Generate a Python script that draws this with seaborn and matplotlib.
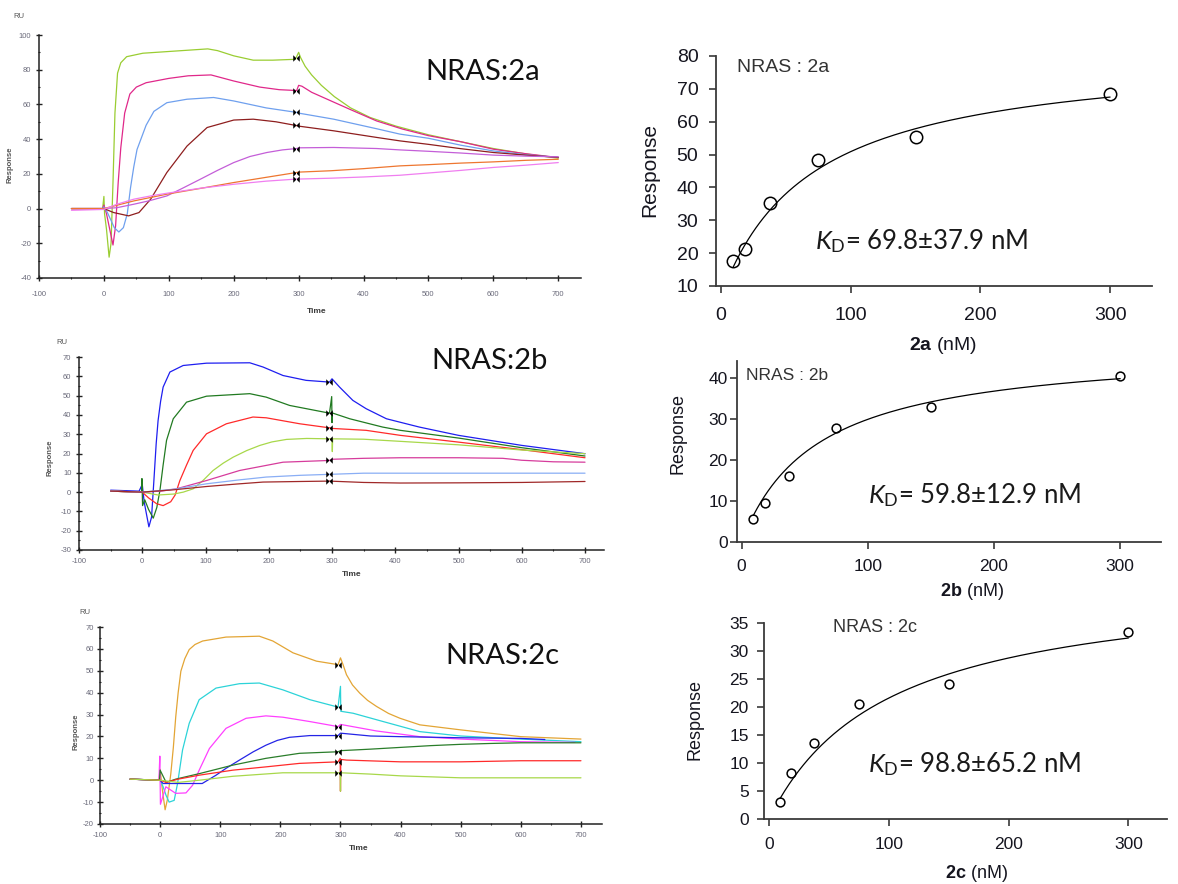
import numpy as np
import pandas as pd
import matplotlib
matplotlib.use("Agg")
import matplotlib.pyplot as plt
from matplotlib.ticker import MultipleLocator
import seaborn as sns

sns.set_style("ticks")
plt.rcParams["font.family"] = ["Liberation Sans", "DejaVu Sans"]
plt.rcParams["axes.unicode_minus"] = False
plt.rcParams["mathtext.fontset"] = "custom"
plt.rcParams["mathtext.rm"] = "Lato"
plt.rcParams["mathtext.it"] = "Lato:italic"
plt.rcParams["mathtext.bf"] = "Liberation Sans:bold"

# ---------------------------------------------------------------- data
# analyte concentrations (nM) used for the sensorgrams, highest first
conc_sens = [300, 150, 75, 37.5, 18.75, 9.375, 4.6875]

# NRAS:2a sensorgrams (time in s, response in RU)
t_2a_300 = [-50, -2, 0, 1, 4, 8, 11, 14, 17, 21, 26, 35, 60, 100, 160, 175, 200, 230, 260, 295,
            300, 303, 310, 320, 335, 355, 380, 410, 450, 500, 550, 600, 650, 700]
r_2a_300 = [0, 0, 7, -3, -12, -28, -20, 15, 55, 78, 84, 87.5, 89.5, 90.5, 92, 91, 88, 85.5, 85.5, 86,
            90, 87, 82, 77, 71, 64.5, 58, 52.5, 47.5, 42.5, 38.5, 34.6, 31.5, 29]
t_2a_150 = [-50, -2, 0, 4, 9, 14, 18, 22, 26, 32, 40, 50, 65, 100, 130, 165, 200, 240, 270, 297,
            300, 305, 320, 350, 380, 420, 460, 500, 550, 600, 650, 700]
r_2a_150 = [0, 0, 2, -3, -12, -21, -10, 15, 35, 55, 66, 70, 72.5, 75, 76.5, 77, 73.5, 70, 68.5, 68,
            71, 70.5, 67, 62, 57, 50.5, 45.8, 42, 38.5, 34.2, 31.6, 29.4]
t_2a_75 = [-50, -2, 0, 5, 10, 16, 23, 30, 36, 41, 46, 51, 58, 65, 77, 97, 128, 169, 200, 250,
           297, 300, 354, 420, 456, 500, 550, 600, 650, 700]
r_2a_75 = [0, 0, 1, -2, -6, -11, -13.5, -11, -3, 12, 24, 34, 41, 48, 56, 61, 63, 64, 62, 58,
           55.4, 55, 51.5, 46, 42.9, 40.5, 36.5, 33.2, 31, 29.5]
t_2a_37 = [-50, 0, 15, 38, 54, 72, 97, 128, 159, 200, 230, 265, 297, 300, 354, 420, 456, 500,
           550, 600, 650, 700]
r_2a_37 = [0, 0, -2.3, -4.2, -2.3, 5.4, 20.8, 36, 46.7, 51, 51.5, 50, 47.8, 47.5, 44.8, 41, 39, 37,
           34.5, 32.3, 30.8, 29.5]
t_2a_18 = [-50, 0, 20, 46, 70, 97, 120, 149, 175, 200, 225, 251, 275, 297, 300, 354, 420, 456,
           500, 550, 600, 650, 700]
r_2a_18 = [0, 0, 0.5, 2.5, 4.5, 7.3, 11.5, 17, 22, 26.5, 30, 32.3, 33.8, 34.6, 35, 35.2, 34.6, 33.8,
           33, 32, 30.8, 30.2, 29.8]
t_2a_9 = [-50, 0, 46, 97, 150, 200, 250, 297, 300, 350, 400, 456, 500, 550, 600, 650, 700]
r_2a_9 = [0, 0, 4.4, 8.3, 11.7, 15, 18, 20.8, 21, 21.8, 23, 24.6, 25.3, 26.2, 26.9, 27.8, 28.4]
t_2a_4 = [-50, 0, 20, 46, 75, 100, 150, 200, 250, 297, 300, 350, 400, 456, 500, 550, 600, 650, 700]
r_2a_4 = [-1, -0.5, 2.5, 5.4, 7.5, 9, 11.8, 14, 15.8, 17, 17, 17.5, 18.2, 19.2, 20.5, 22, 23.7, 25, 26.5]

# NRAS:2b sensorgrams
t_2b_300 = [-50, -5, 0, 3, 7, 10.5, 14.7, 18.4, 22, 25, 29, 33, 43.7, 64.7, 101.6, 170, 191, 222.6,
            259, 296, 300, 312, 333, 354, 386, 438, 500, 600, 700]
r_2b_300 = [1, 0.5, 4, -5, -12, -18, -13, 6, 25, 37, 47, 54.4, 62.2, 65.6, 66.8, 67, 64.8, 60.4,
            57.9, 57, 58.7, 54.4, 47.5, 43.2, 38, 33.7, 29.4, 24.2, 19.9]
t_2b_150 = [-50, -1, -0.5, 0.5, 4, 10, 17.4, 23, 28, 33, 38.4, 49, 70, 101.6, 170, 196, 233, 296,
            299.5, 300, 300.5, 328, 380, 408, 500, 600, 700]
r_2b_150 = [0.5, 0, 7, -7, -4, -9, -13.5, -8, 1, 14, 26.8, 38, 46.6, 49.7, 51, 49.2, 44.9, 40.9,
            49.5, 36, 41, 38, 33.7, 32, 28, 23, 18.7]
t_2b_75 = [-50, 0, 10, 22.6, 33, 45, 52, 59.5, 70, 80.5, 101.6, 133, 175, 196, 249, 296, 300, 354,
           408, 500, 600, 700]
r_2b_75 = [0.5, 0, -3, -6, -7, -5, -1.5, 6, 14, 21.6, 30.2, 35.4, 38.9, 38.5, 35.4, 33.3, 33, 32,
           29.4, 25.9, 22, 17.8]
t_2b_37 = [-50, 0, 25, 50, 65, 80.5, 96, 112, 128, 143.7, 165, 186, 205, 228, 260, 296, 300, 300.5,
           301, 350, 408, 500, 600, 700]
r_2b_37 = [0.5, 0, -1.5, -1, 0, 1.7, 6, 11.2, 15, 18.1, 21.5, 24.2, 26, 27.3, 27.8, 27.6, 27.6, 21,
           27.6, 27.4, 26.3, 24.5, 21.8, 19.9]
t_2b_18 = [-50, 0, 30, 54, 101.6, 154, 222.6, 296, 300, 350, 408, 500, 570, 600, 650, 700]
r_2b_18 = [0.5, 0, 0.5, 1.7, 6, 11.2, 15.5, 16.4, 17, 17.5, 17.8, 17.8, 17.5, 16.5, 15.7, 15.5]
t_2b_9 = [-50, 0, 50, 101.6, 150, 196, 250, 296, 350, 408, 500, 600, 700]
r_2b_9 = [0.5, 0, 1.5, 4.3, 6.2, 7.8, 8.7, 9.2, 9.8, 9.8, 9.8, 9.8, 9.8]
t_2b_4 = [-50, 0, 50, 101.6, 150, 191, 250, 296, 350, 408, 500, 600, 700]
r_2b_4 = [0.5, 0, 1.2, 2.9, 4.2, 5.2, 5.5, 5.7, 5, 4.7, 4.8, 5, 5.5]

# NRAS:2c sensorgrams
t_2c_300 = [-50, -2, 0, 4, 8.3, 12, 17.8, 22, 26, 30, 34.5, 41, 48.4, 58, 70.7, 109.6, 165, 187.5,
            221, 260, 296, 300, 304, 310, 320, 332, 345, 360, 380, 399, 432, 500, 600, 700]
r_2c_300 = [0.5, 0, 5, -5, -13.5, -9, 3, 15, 29, 40, 49.8, 55.5, 59.7, 62, 63.6, 65.4, 65.8, 63.6,
            58.2, 54.4, 52.8, 55.9, 53, 48.2, 43.5, 39.8, 36.5, 33.7, 30.5, 28.3, 25.3, 23, 19.9, 18.8]
t_2c_150 = [-50, 0, 5, 10, 15, 23.4, 29, 37.3, 48.4, 65, 93, 132, 165, 204, 249, 296, 300, 300.5,
            321, 371, 432, 500, 600, 700]
r_2c_150 = [0.5, 0, -3, -7, -10, -9.2, -1.5, 13.8, 26, 36.8, 42.1, 44.1, 44.4, 41.3, 36.8, 33.4,
            42.9, 31.5, 30.6, 26.8, 22.2, 20.2, 18.8, 17.6]
t_2c_75 = [-50, -2, -0.5, 0.5, 9.5, 26, 43, 54, 65, 82, 109.6, 143, 176, 204, 249, 296, 300, 360,
           432, 500, 600, 690]
r_2c_75 = [0.5, 0, 11, -11, -3, -6, -5.8, -2.3, 4.6, 14.5, 23.7, 28.3, 29.4, 28.8, 26.8, 24.5, 25.5,
           22.5, 19.9, 18.8, 17.6, 17.3]
t_2c_37 = [-50, 0, 5, 30, 70, 93, 110, 132, 155, 176, 195, 215, 249, 296, 300, 350, 400, 500, 600, 640]
r_2c_37 = [0.5, 0, -1.5, -1.5, -1.5, 2.3, 5.5, 9.2, 13, 16, 18.2, 19.6, 20.4, 20.4, 21.5, 20.2, 19.9,
           19.4, 19.1, 18.6]
t_2c_18 = [-50, -1, 0, 10, 26, 65, 121, 176, 232, 296, 300, 350, 400, 450, 500, 550, 600, 700]
r_2c_18 = [0.5, 0, 4.6, -1, 0.5, 3, 6.9, 10, 12.3, 13, 13.5, 14.2, 15, 15.8, 16.4, 16.8, 17.1, 17.1]
t_2c_9 = [-50, 0, 10, 30, 65, 121, 176, 232, 296, 299.5, 300, 300.5, 310, 400, 500, 600, 700]
r_2c_9 = [0.5, 0, -1, 0.5, 2.3, 4.6, 6.1, 7.7, 8.4, 10, -5, 9.5, 9.2, 8.4, 8.4, 8.9, 8.9]
t_2c_4 = [-50, 0, 30, 65, 121, 204, 296, 299.5, 300, 300.5, 350, 400, 500, 600, 700]
r_2c_4 = [0.5, 0, -1, 0, 1.8, 3.4, 3.4, 3.4, -5, 3.4, 2.8, 2, 1.1, 1.1, 1.1]

# steady-state affinity data (nM, RU)
conc_ss = [9.375, 18.75, 37.5, 75, 150, 300]
resp_2a = [17.7, 21.2, 35.4, 48.3, 55.4, 68.3]
resp_2b = [5.5, 9.4, 16.1, 27.7, 32.8, 40.4]
resp_2c = [3.0, 8.3, 13.5, 20.5, 24.1, 33.3]

# 1:1 steady-state fit parameters: KD (nM), error, Rmax (RU), offset (RU)
kd_2a, kd_err_2a, rmax_2a, off_2a = 69.8, 37.9, 74.7, 6.9
kd_2b, kd_err_2b, rmax_2b, off_2b = 59.8, 12.9, 47.7, 0.0
kd_2c, kd_err_2c, rmax_2c, off_2c = 98.8, 65.2, 42.9, 0.0

report_time = 296

colors_2a = ["#9ACD32", "#E0288A", "#6FA0EE", "#8E1E1E", "#C45ED8", "#EE7630", "#F07EF0"]
colors_2b = ["#1E1EF0", "#217A21", "#FF2A2A", "#A8D84A", "#D63C9C", "#8AAEF5", "#A02828"]
colors_2c = ["#E3A535", "#2CD3D8", "#FF40FF", "#2424E6", "#2A7D2A", "#FF2A2A", "#A8D84A"]

curves_2a = [(t_2a_300, r_2a_300), (t_2a_150, r_2a_150), (t_2a_75, r_2a_75), (t_2a_37, r_2a_37),
             (t_2a_18, r_2a_18), (t_2a_9, r_2a_9), (t_2a_4, r_2a_4)]
curves_2b = [(t_2b_300, r_2b_300), (t_2b_150, r_2b_150), (t_2b_75, r_2b_75), (t_2b_37, r_2b_37),
             (t_2b_18, r_2b_18), (t_2b_9, r_2b_9), (t_2b_4, r_2b_4)]
curves_2c = [(t_2c_300, r_2c_300), (t_2c_150, r_2c_150), (t_2c_75, r_2c_75), (t_2c_37, r_2c_37),
             (t_2c_18, r_2c_18), (t_2c_9, r_2c_9), (t_2c_4, r_2c_4)]

# ---------------------------------------------------------------- figure
W, H = 1178, 884
fig = plt.figure(figsize=(W / 100, H / 100), dpi=100, facecolor="white")


def px_axes(left, top, right, bottom):
    return fig.add_axes([left / W, 1 - bottom / H, (right - left) / W, (bottom - top) / H])


def ftext(x, y, s, **kw):
    kw.setdefault("ha", "center")
    kw.setdefault("va", "center")
    return fig.text(x / W, 1 - y / H, s, **kw)


def sensorgram(ax, curves, colors, xlim, ylim, ystep, xpad, ypad):
    frames = []
    labels = [f"{c:g} nM" for c in conc_sens]
    for (t, r), lab in zip(curves, labels):
        frames.append(pd.DataFrame({"time": t, "response": r, "conc": lab}))
    df = pd.concat(frames, ignore_index=True)
    sns.lineplot(data=df, x="time", y="response", hue="conc", hue_order=labels,
                 palette=colors, estimator=None, sort=False, legend=False,
                 linewidth=0.9, ax=ax)
    # report points at the end of injection
    bow = [(-1, 1), (1, -1), (1, 1), (-1, -1)]
    rx = [report_time] * len(curves)
    ry = [float(np.interp(report_time, t, r)) for t, r in curves]
    ax.scatter(rx, ry, marker=bow, s=22, color="black", linewidths=0, zorder=5)
    ax.set_xlim(*xlim)
    ax.set_ylim(*ylim)
    ax.xaxis.set_major_locator(MultipleLocator(100))
    ax.xaxis.set_minor_locator(MultipleLocator(50))
    ax.yaxis.set_major_locator(MultipleLocator(ystep))
    ax.yaxis.set_minor_locator(MultipleLocator(ystep / 2))
    ax.set_xlabel("")
    ax.set_ylabel("")
    for s in ("top", "right"):
        ax.spines[s].set_visible(False)
    for s in ("left", "bottom"):
        ax.spines[s].set_color("#222222")
        ax.spines[s].set_linewidth(1.1)
    ax.tick_params(which="major", direction="inout", length=5, width=1, color="#222222",
                   labelsize=5.5, labelcolor="#6a6a7a")
    ax.tick_params(which="minor", direction="inout", length=2, width=0.8, color="#222222")
    ax.tick_params(axis="x", pad=xpad)
    ax.tick_params(axis="y", pad=ypad)


def affinity(ax, resp, kd, rmax, off, ylim, yticks, size, msize, xpad, ypad):
    cfit = np.linspace(conc_ss[0], conc_ss[-1], 300)
    fit = off + rmax * cfit / (kd + cfit)
    sns.scatterplot(x=conc_ss, y=resp, ax=ax, s=msize, color="white", edgecolor="black",
                    linewidth=1.1, zorder=2, legend=False)
    sns.lineplot(x=cfit, y=fit, ax=ax, color="black", linewidth=0.9, zorder=3)
    ax.set_xlim(-4, 332)
    ax.set_ylim(*ylim)
    ax.set_xticks([0, 100, 200, 300])
    ax.set_yticks(yticks)
    for s in ("top", "right"):
        ax.spines[s].set_visible(False)
    for s in ("left", "bottom"):
        ax.spines[s].set_color("#3a3a3a")
        ax.spines[s].set_linewidth(1.3)
    ax.tick_params(direction="out", length=5, width=1.2, color="#3a3a3a",
                   labelsize=size, labelcolor="#15151f")
    ax.tick_params(axis="x", pad=xpad)
    ax.tick_params(axis="y", pad=ypad)
    ax.set_xlabel("")
    ax.set_ylabel("")


# sensorgram panels
ax1 = px_axes(39, 35, 581, 278)
sensorgram(ax1, curves_2a, colors_2a, (-100, 735), (-40, 100), 20, 6.5, 3)
ax2 = px_axes(79, 357, 604, 550)
sensorgram(ax2, curves_2b, colors_2b, (-100, 730), (-30, 70), 10, 3.5, 3)
ax3 = px_axes(100, 627, 602, 824)
sensorgram(ax3, curves_2c, colors_2c, (-100, 735), (-20, 70), 10, 3.5, 2)

small = dict(fontsize=5.5, color="#555555")
for (rx, ry), (yx, yy), (tx, ty) in [((19, 17), (10.5, 165), (317, 311)),
                                      ((62, 342), (50, 458), (352, 575)),
                                      ((85, 612), (76, 732), (359, 849))]:
    ftext(rx, ry, "RU", **small)
    ftext(yx, yy, "Response", rotation=90, fontweight="bold", **small)
    ftext(tx, ty, "Time", fontsize=6, color="#3a3a3a", fontweight="bold")

big = dict(fontsize=21, family=["Lato", "DejaVu Sans"], color="#111111")
ftext(483, 72, "NRAS:2a", **big)
ftext(490, 361, "NRAS:2b", **big)
ftext(502, 656, "NRAS:2c", **big)

# steady-state affinity panels
axr1 = px_axes(715.8, 56, 1151.6, 286)
affinity(axr1, resp_2a, kd_2a, rmax_2a, off_2a, (10, 80), range(10, 81, 10), 14, 80, 10, 7.5)
axr2 = px_axes(736.6, 361.3, 1160.6, 541.7)
affinity(axr2, resp_2b, kd_2b, rmax_2b, off_2b, (0, 44), range(0, 41, 10), 12.5, 40, 7.5, 1.5)
axr3 = px_axes(764.1, 622.7, 1166.7, 819.3)
affinity(axr3, resp_2c, kd_2c, rmax_2c, off_2c, (0, 35), range(0, 36, 5), 12.5, 40, 8, 6)

lab = dict(color="#15151f")
ftext(650, 170, "Response", rotation=90, fontsize=15, **lab)
ftext(678, 433, "Response", rotation=90, fontsize=13, **lab)
ftext(695, 719, "Response", rotation=90, fontsize=13, **lab)
ftext(943, 345, r"$\mathbf{2a}$ (nM)", fontsize=14, **lab)
ftext(972, 591, r"$\mathbf{2b}$ (nM)", fontsize=13, **lab)
ftext(976, 873, r"$\mathbf{2c}$ (nM)", fontsize=13, **lab)
ftext(783, 68, "NRAS : 2a", fontsize=14, color="#333333")
ftext(787, 375, "NRAS : 2b", fontsize=12.5, color="#333333")
ftext(875, 628, "NRAS : 2c", fontsize=13, color="#333333")

kd_kw = dict(fontsize=18.5, family=["Lato", "DejaVu Sans"], color="#1a1a1a", ha="left", va="baseline")
for x, y, kd, err in [(815, 249, kd_2a, kd_err_2a), (868, 503, kd_2b, kd_err_2b),
                      (868, 772, kd_2c, kd_err_2c)]:
    ftext(x, y, r"$K_{\mathrm{D}}$" + f"= {kd:.1f}\u00b1{err:.1f} nM", **kd_kw)

fig.savefig("out.png", dpi=100, facecolor="white")
